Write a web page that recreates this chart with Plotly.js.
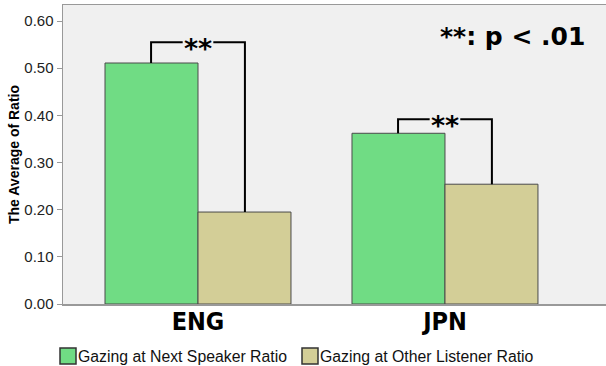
<!DOCTYPE html>
<html>
<head>
<meta charset="utf-8">
<script src="https://cdn.plot.ly/plotly-3.0.1.min.js"></script>
<style>html,body{margin:0;padding:0;background:#fff;}#chart{width:606px;height:366px;}</style>
</head>
<body>
<div id="chart"></div>
<script>
// ---- data ----
var categories = ['ENG', 'JPN'];
var nextSpeakerRatio = [0.511, 0.362];
var otherListenerRatio = [0.195, 0.254];
var seriesNames = ['Gazing at Next Speaker Ratio', 'Gazing at Other Listener Ratio'];
var bracketTop = [0.555, 0.392];
var sigLabels = ['**', '**'];
var noteText = '**: p < .01';
var yTickVals = [0, 0.1, 0.2, 0.3, 0.4, 0.5, 0.6];

var green = '#70dc84';
var tan = '#d3ce97';
var edge = '#4a4a4a';
var condBold = '"DejaVu Sans Condensed", "DejaVu Sans", sans-serif';
var sansBold = '"DejaVu Sans", sans-serif';
var arial = 'Liberation Sans, Arial, sans-serif';

// plot-area geometry (pixels) for placing non-data decorations
var M = {l: 63, r: 0, t: 5, b: 62};
var W = 606, H = 366;
var pw = W - M.l - M.r, ph = H - M.t - M.b;
function px2x(px) { return (px - M.l) / pw; }
function px2y(py) { return 1 - (py - M.t) / ph; }

var traces = [
  {type: 'bar', name: seriesNames[0], x: categories, y: nextSpeakerRatio, showlegend: false,
   marker: {color: green, line: {color: edge, width: 1}}, hoverinfo: 'none'},
  {type: 'bar', name: seriesNames[1], x: categories, y: otherListenerRatio, showlegend: false,
   marker: {color: tan, line: {color: edge, width: 1}}, hoverinfo: 'none'}
];

var off = 0.19, gap = 0.062;
var shapes = [];
var annotations = [];
categories.forEach(function (c, i) {
  var xl = i - off, xr = i + off;
  shapes.push({type: 'path', xref: 'x', yref: 'y',
    path: 'M' + xl + ',' + nextSpeakerRatio[i] + ' L' + xl + ',' + bracketTop[i] + ' L' + (i - gap) + ',' + bracketTop[i],
    line: {color: '#000', width: 2}});
  shapes.push({type: 'path', xref: 'x', yref: 'y',
    path: 'M' + (i + gap) + ',' + bracketTop[i] + ' L' + xr + ',' + bracketTop[i] + ' L' + xr + ',' + otherListenerRatio[i],
    line: {color: '#000', width: 2}});
  annotations.push({x: i, y: bracketTop[i], xref: 'x', yref: 'y', text: sigLabels[i],
    showarrow: false, xanchor: 'center', yanchor: 'middle', yshift: -6,
    font: {family: sansBold, size: 27, color: '#000', weight: 'bold'}});
});
annotations.push({x: px2x(512), y: px2y(36), xref: 'paper', yref: 'paper', text: noteText, showarrow: false,
  xanchor: 'center', yanchor: 'middle',
  font: {family: sansBold, size: 25, color: '#000', weight: 'bold'}});

// legend drawn as swatches + labels below the axis
var swatchColors = [green, tan];
var swatchLeft = [60, 302];
seriesNames.forEach(function (n, k) {
  shapes.push({type: 'rect', xref: 'paper', yref: 'paper',
    x0: px2x(swatchLeft[k]), x1: px2x(swatchLeft[k] + 16), y0: px2y(348), y1: px2y(364),
    fillcolor: swatchColors[k], line: {color: '#333', width: 1.5}});
  annotations.push({x: px2x(swatchLeft[k] + 16), y: px2y(356), xref: 'paper', yref: 'paper', text: n,
    showarrow: false, xanchor: 'left', yanchor: 'middle',
    font: {family: arial, size: 15.8, color: '#111'}});
});

var layout = {
  width: W, height: H,
  margin: M,
  paper_bgcolor: '#ffffff', plot_bgcolor: '#f0f0f0',
  barmode: 'group', bargap: 0.247, bargroupgap: 0,
  showlegend: false,
  xaxis: {range: [-0.5466, 1.652], showline: true, linecolor: '#999', linewidth: 1.5, mirror: true,
    ticks: '', showgrid: false, zeroline: false, ticklabelstandoff: -6,
    tickfont: {family: condBold, size: 25, color: '#000', weight: 'bold'}},
  yaxis: {range: [0, 0.634], tickvals: yTickVals, tickformat: '.2f', ticks: 'outside', ticklen: 5,
    tickcolor: '#999', showline: true, linecolor: '#999', linewidth: 1.5, showgrid: false, zeroline: false,
    tickfont: {family: arial, size: 15, color: '#222'},
    title: {text: 'The Average of Ratio', standoff: 1,
      font: {family: arial, size: 14, color: '#000', weight: 'bold'}}},
  shapes: shapes,
  annotations: annotations
};

Plotly.newPlot('chart', traces, layout, {displayModeBar: false, staticPlot: true});
</script>
</body>
</html>
